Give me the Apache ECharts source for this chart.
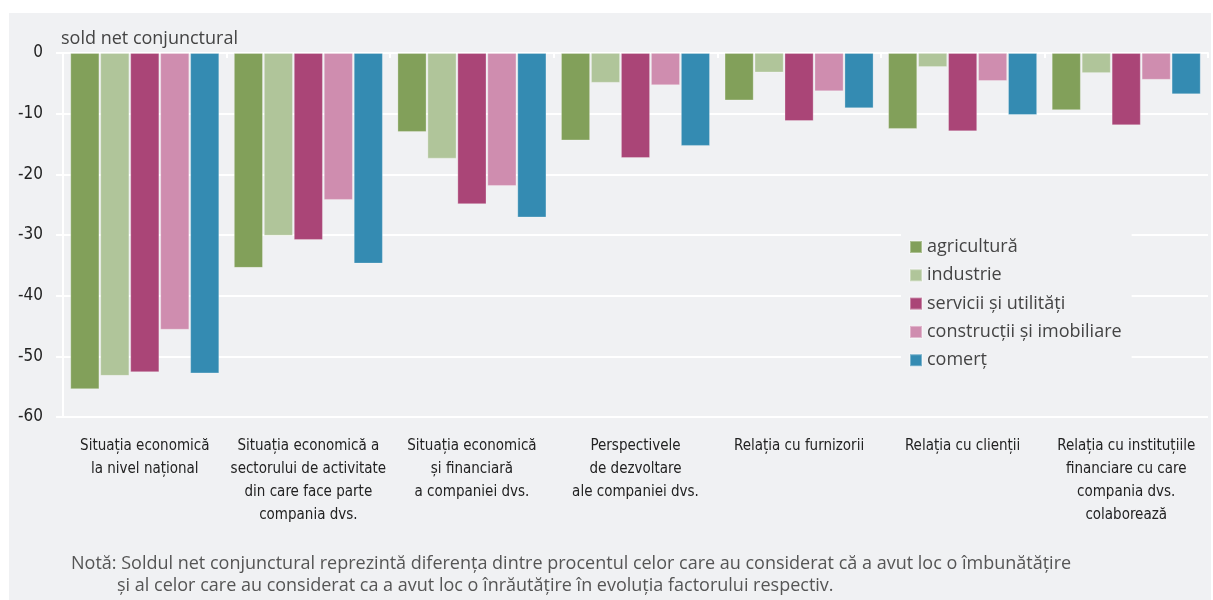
<!DOCTYPE html>
<html>
<head>
<meta charset="utf-8">
<script src="https://cdn.jsdelivr.net/npm/echarts@6/dist/echarts.min.js"></script>
<style>
  html, body { margin: 0; padding: 0; background: #ffffff; }
  #chart { width: 1213px; height: 600px; }
</style>
</head>
<body>
<div id="chart"></div>
<script>
  // categorii (axa x)
  var categories = [
    'Situația economică\nla nivel național',
    'Situația economică a\nsectorului de activitate\ndin care face parte\ncompania dvs.',
    'Situația economică\nși financiară\na companiei dvs.',
    'Perspectivele\nde dezvoltare\nale companiei dvs.',
    'Relația cu furnizorii',
    'Relația cu clienții',
    'Relația cu instituțiile\nfinanciare cu care\ncompania dvs.\ncolaborează'
  ];

  // valori sold net conjunctural
  var agricultura  = [-55.4, -35.4, -13.0, -14.4, -7.8, -12.5, -9.4];
  var industrie    = [-53.2, -30.1, -17.4, -4.9, -3.2, -2.3, -3.3];
  var servicii     = [-52.6, -30.8, -24.9, -17.3, -11.2, -12.9, -11.9];
  var constructii  = [-45.6, -24.2, -21.9, -5.3, -6.3, -4.6, -4.4];
  var comert       = [-52.8, -34.7, -27.1, -15.3, -9.1, -10.2, -6.8];

  var yTicks = [0, -10, -20, -30, -40, -50, -60];

  var seriesNames = ['agricultură', 'industrie', 'servicii și utilități', 'construcții și imobiliare', 'comerț'];
  var seriesData = [agricultura, industrie, servicii, constructii, comert];
  var colors = ['#82a05a', '#b0c59a', '#aa4577', '#cf8daf', '#348bb2'];

  var panel = '#f0f1f3';
  var narrow = '"Liberation Sans Narrow", "DejaVu Sans Condensed", sans-serif';
  var regular = '"Open Sans", "Noto Sans", sans-serif';

  var series = seriesNames.map(function (name, i) {
    return {
      name: name,
      type: 'bar',
      xAxisIndex: 0,
      data: seriesData[i],
      barCategoryGap: '9%',
      barGap: '3.5%',
      itemStyle: {
        color: colors[i],
        borderColor: 'rgba(255,255,255,0.35)',
        borderWidth: 0.8
      }
    };
  });

  var chart = echarts.init(document.getElementById('chart'));
  chart.setOption({
    backgroundColor: '#ffffff',
    animation: false,
    color: colors,
    graphic: [
      {
        type: 'rect', z: -10, silent: true,
        shape: { x: 9, y: 13, width: 1202, height: 590 },
        style: { fill: panel }
      },
      {
        type: 'text', left: 61, top: 30,
        style: { text: 'sold net conjunctural', font: '18px ' + regular, fill: '#444' }
      },
      {
        type: 'text', left: 71, top: 555,
        style: {
          text: 'Notă: Soldul net conjunctural reprezintă diferența dintre procentul celor care au considerat că a avut loc o îmbunătățire',
          font: '18px ' + regular, fill: '#555'
        }
      },
      {
        type: 'text', left: 117, top: 577,
        style: {
          text: 'și al celor care au considerat ca a avut loc o înrăutățire în evoluția factorului respectiv.',
          font: '18px ' + regular, fill: '#555'
        }
      }
    ],
    legend: {
      orient: 'vertical',
      left: 901,
      top: 232,
      padding: [6, 10, 6, 8],
      backgroundColor: panel,
      itemWidth: 12,
      itemHeight: 12,
      itemGap: 10.3,
      icon: 'rect',
      textStyle: { fontFamily: regular, fontSize: 18, color: '#444' },
      data: seriesNames
    },
    grid: { left: 63, right: 5, top: 53, bottom: 183, containLabel: false },
    xAxis: [
      {
        type: 'category',
        data: categories,
        position: 'bottom',
        axisLine: { show: false },
        axisTick: { show: false },
        axisLabel: {
          interval: 0,
          margin: 18,
          fontFamily: narrow,
          fontSize: 15,
          lineHeight: 23,
          color: '#222'
        }
      },
      {
        type: 'category',
        data: categories,
        position: 'top',
        axisLine: { show: true, lineStyle: { color: '#ffffff', width: 2 } },
        axisTick: { show: true, inside: true, length: 5, lineStyle: { color: '#ffffff', width: 2 } },
        axisLabel: { show: false }
      }
    ],
    yAxis: {
      type: 'value',
      min: yTicks[yTicks.length - 1],
      max: yTicks[0],
      interval: 10,
      axisLine: { show: true, lineStyle: { color: '#ffffff', width: 2 } },
      axisTick: { show: true, length: 7, lineStyle: { color: '#ffffff', width: 2 } },
      splitLine: { show: true, lineStyle: { color: '#ffffff', width: 2 } },
      axisLabel: {
        margin: 20,
        fontFamily: narrow,
        fontSize: 17,
        color: '#222'
      }
    },
    series: series
  });
</script>
</body>
</html>
